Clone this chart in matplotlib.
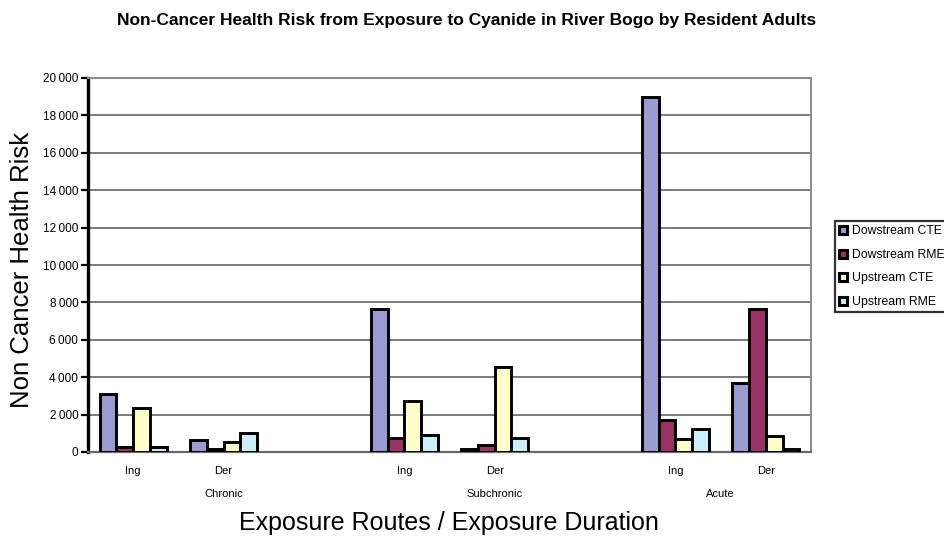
import matplotlib
matplotlib.use("Agg")
import matplotlib.pyplot as plt
import numpy as np
from matplotlib.patches import Patch

# Category slots along the x axis (empty strings are spacer slots between durations)
routes = ["Ing", "Der", "", "Ing", "Der", "", "Ing", "Der"]
durations = ["Chronic", "Subchronic", "Acute"]
duration_centers = [1, 4, 6.5]

series_names = ["Dowstream CTE", "Dowstream RME", "Upstream CTE", "Upstream RME"]
dow_cte = [3100, 640, 0, 7650, 150, 0, 19000, 3700]
dow_rme = [260, 150, 0, 760, 400, 0, 1730, 7650]
up_cte = [2350, 530, 0, 2730, 4570, 0, 720, 870]
up_rme = [250, 1020, 0, 910, 760, 0, 1240, 150]
has_data = [True, True, False, True, True, False, True, True]

colors = ["#9b9bd2", "#993366", "#ffffcc", "#cceef8"]
yticks = list(range(0, 20001, 2000))
FONT = "Liberation Sans"

fig = plt.figure(figsize=(9.44, 5.42), dpi=100)
ax = fig.add_axes([88 / 944, 90 / 542, (811 - 88) / 944, (452 - 78) / 542])

x = np.arange(len(routes))
w = 0.185
all_series = [dow_cte, dow_rme, up_cte, up_rme]
for i, (vals, col) in enumerate(zip(all_series, colors)):
    xs = [xi + (i - 1.5) * w for xi, ok in zip(x, has_data) if ok]
    vs = [v for v, ok in zip(vals, has_data) if ok]
    ax.bar(xs, vs, width=w, color=col, edgecolor="black", linewidth=2.1, zorder=3)

ax.set_xlim(-0.5, len(routes) - 0.5)
ax.set_ylim(0, 20000)
ax.set_yticks(yticks)
ax.set_yticklabels([f"{v:,}".replace(",", "\u2009") for v in yticks], fontsize=8.5,
                   fontfamily=FONT)
ax.yaxis.grid(True, color="#7a7a7a", linewidth=1.4, zorder=0)
ax.tick_params(axis="y", direction="out", length=5, width=1.6, color="black", pad=2)

ax.set_xticks(x)
ax.set_xticklabels(routes, fontsize=8, fontfamily=FONT)
ax.tick_params(axis="x", length=0, pad=10)

for name, c in zip(durations, duration_centers):
    ax.text(c, -0.113, name, transform=ax.get_xaxis_transform(), ha="center", va="center",
            fontsize=8, fontfamily=FONT)

for side in ["top", "right"]:
    ax.spines[side].set_color("#8a8a8a")
    ax.spines[side].set_linewidth(1.4)
ax.spines["bottom"].set_color("#6a6a6a")
ax.spines["bottom"].set_linewidth(1.6)
ax.spines["left"].set_color("black")
ax.spines["left"].set_linewidth(2.4)

fig.text(22 / 944, 1 - 270 / 542, "Non Cancer Health Risk", rotation=90, ha="center",
         va="center", fontsize=18.5, fontfamily=FONT)
fig.text(449 / 944, 1 - 523 / 542, "Exposure Routes / Exposure Duration", ha="center",
         va="center", fontsize=18, fontfamily=FONT)
fig.text(467 / 944, 1 - 20 / 542,
         "Non-Cancer Health Risk from Exposure to Cyanide in River Bogo by Resident Adults",
         ha="center", va="center", fontsize=12.5, fontweight="bold", fontfamily=FONT)

handles = [Patch(facecolor=c, edgecolor="black", linewidth=2.2) for c in colors]
leg = fig.legend(handles, series_names, loc="upper left",
                 bbox_to_anchor=(835 / 944, 1 - 221 / 542),
                 prop={"family": FONT, "size": 8.8},
                 handlelength=0.65, handleheight=0.65, handletextpad=0.35,
                 labelspacing=0.95, borderpad=0.35, borderaxespad=0,
                 frameon=True, fancybox=False)
leg.get_frame().set_edgecolor("black")
leg.get_frame().set_linewidth(1.6)

fig.savefig("out.png", dpi=100)
